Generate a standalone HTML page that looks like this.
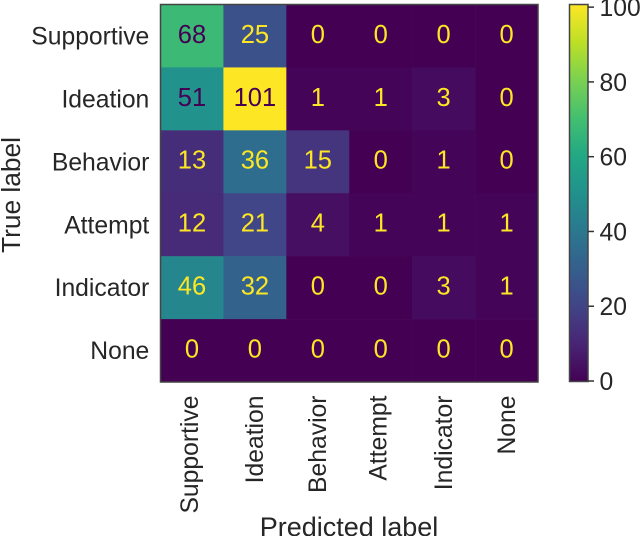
<!DOCTYPE html>
<html>
<head>
<meta charset="utf-8">
<title>Confusion matrix</title>
<style>
html,body{margin:0;padding:0;background:#fff;width:640px;height:536px;overflow:hidden}
svg{display:block;font-family:"Liberation Sans",Arial,sans-serif;filter:blur(0.3px)}
text{fill:#262626}
</style>
</head>
<body>
<svg id="chart" xmlns="http://www.w3.org/2000/svg" width="640" height="536" viewBox="0 0 640 536">
  <defs>
    <linearGradient id="viridis-gradient" x1="0" y1="1" x2="0" y2="0"></linearGradient>
  </defs>
  <g id="cells"></g>
  <g id="values"></g>
  <rect id="frame" x="160.5" y="4.5" width="377.5" height="377.5" fill="none" stroke="#444" stroke-width="1.5"></rect>
  <g id="ylabels"></g>
  <g id="xlabels"></g>
  <text transform="translate(20,195) rotate(-90)" text-anchor="middle" font-size="26.3">True label</text>
  <text x="349" y="536" text-anchor="middle" font-size="27">Predicted label</text>
  <g id="colorbar"></g>
</svg>
<script>
const categories = ["Supportive", "Ideation", "Behavior", "Attempt", "Indicator", "None"];
const matrixRow0 = [68, 25, 0, 0, 0, 0];
const matrixRow1 = [51, 101, 1, 1, 3, 0];
const matrixRow2 = [13, 36, 15, 0, 1, 0];
const matrixRow3 = [12, 21, 4, 1, 1, 1];
const matrixRow4 = [46, 32, 0, 0, 3, 1];
const matrixRow5 = [0, 0, 0, 0, 0, 0];
const matrix = [matrixRow0, matrixRow1, matrixRow2, matrixRow3, matrixRow4, matrixRow5];
const colorbarTicks = [0, 20, 40, 60, 80, 100];
const viridis = ["#440154", "#482475", "#414487", "#355f8d", "#2a788e", "#21918c", "#22a884", "#44bf70", "#7ad151", "#bddf26", "#fde725"];

const NS = "http://www.w3.org/2000/svg";
const plotLeft = 160.5, plotTop = 4.5, plotSize = 377.5;
const barLeft = 569.5, barRight = 588, barTop = 4.5, barBottom = 381.5;
const scaleTop = 3.4, scaleBottom = 381;

const allValues = matrix.flat();
const vMax = Math.max(...allValues);
const vMin = 0;
const threshold = (vMax + vMin) / 2;

function xBand(i) { return plotLeft + i * plotSize / categories.length; }
function yBand(i) { return plotTop + i * plotSize / categories.length; }
function barY(v) { return scaleBottom - (v - vMin) / (vMax - vMin) * (scaleBottom - scaleTop); }

function hexToRgb(h) {
  return [parseInt(h.slice(1, 3), 16), parseInt(h.slice(3, 5), 16), parseInt(h.slice(5, 7), 16)];
}
function colorFor(v) {
  const t = Math.max(0, Math.min(1, (v - vMin) / (vMax - vMin))) * (viridis.length - 1);
  const i = Math.min(Math.floor(t), viridis.length - 2);
  const a = hexToRgb(viridis[i]);
  const b = hexToRgb(viridis[i + 1]);
  const f = t - i;
  const c = a.map((x, k) => Math.round(x + (b[k] - x) * f));
  return "rgb(" + c.join(",") + ")";
}
function make(tag, attrs, parent) {
  const el = document.createElementNS(NS, tag);
  for (const k in attrs) el.setAttribute(k, attrs[k]);
  parent.appendChild(el);
  return el;
}

const cellsG = document.getElementById("cells");
const valuesG = document.getElementById("values");
const ylabelsG = document.getElementById("ylabels");
const xlabelsG = document.getElementById("xlabels");
const colorbarG = document.getElementById("colorbar");
const gradient = document.getElementById("viridis-gradient");
const band = plotSize / categories.length;

matrix.forEach((row, r) => {
  row.forEach((v, c) => {
    const rect = make("rect", { x: xBand(c), y: yBand(r), width: band + 0.3, height: band + 0.3, fill: colorFor(v) }, cellsG);
    
    
    const label = make("text", { x: xBand(c) + band / 2, y: yBand(r) + band / 2 + 6.9, "text-anchor": "middle", "font-size": 25.5 }, valuesG);
    
    
    label.style.fill = v > threshold ? "#440154" : "#fde725";
    label.textContent = v;
  });
});

categories.forEach((name, i) => {
  const yl = make("text", { x: 149.3, y: yBand(i) + band / 2 + 8.6, "text-anchor": "end", "font-size": 24.7 }, ylabelsG);
  
  
  yl.textContent = name;

  const hasDescender = /[pgyq]/.test(name);
  const baseX = xBand(i) + band / 2 + (hasDescender ? 5.8 : 8.3);
  const xl = make("text", { transform: "translate(" + baseX + ",395.5) rotate(-90)", "text-anchor": "end", "font-size": 24.7 }, xlabelsG);
  
  
  xl.textContent = name;
});

viridis.forEach((col, i) => {
  make("stop", { offset: i / (viridis.length - 1), "stop-color": col }, gradient);
});

const barRect = make("rect", { x: barLeft, y: barTop, width: barRight - barLeft, height: barBottom - barTop, fill: "url(#viridis-gradient)", stroke: "#444", "stroke-width": 1.5 }, colorbarG);



colorbarTicks.forEach((t) => {
  const y = barY(t);
  const tick = make("line", { x1: barRight, x2: barRight + 6, y1: y, y2: y, stroke: "#333", "stroke-width": 1.5 }, colorbarG);
  
  
  const lab = make("text", { x: 599.5, y: y + 9, "font-size": 24.7 }, colorbarG);
  
  
  lab.textContent = t;
});
</script>
</body>
</html>
